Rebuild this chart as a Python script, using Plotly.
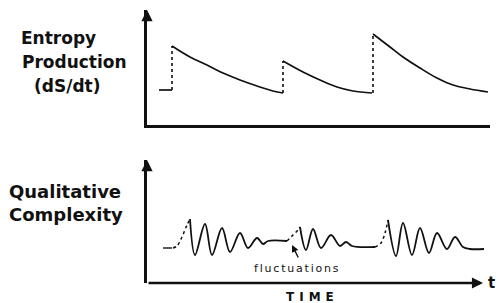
import plotly.graph_objects as go

# ---------------- data (arbitrary units) ----------------
# Entropy production (top panel)
ep_base_t = [12, 25]
ep_base_v = [35, 35]
ep_jump_t = [[25, 25], [136, 136], [226, 226]]
ep_jump_v = [[35, 79], [32, 64], [32, 91]]
ep_decay_t = [
    [25, 43, 60, 76, 93, 110, 126, 136],
    [136, 156, 173, 190, 206, 225],
    [226, 243, 256, 273, 290, 306, 323, 341],
]
ep_decay_v = [
    [79, 68, 60, 52, 45, 39, 34, 32],
    [64, 53, 45, 38, 34, 32],
    [91, 78, 68, 57, 47, 40, 36, 33],
]

# Qualitative complexity (bottom panel)
qc_lead_t = [16, 26]
qc_lead_v = [35, 35]
qc_rise_t = [[26, 30, 35, 40, 43], [140, 146, 151, 153], [228, 234, 238, 241]]
qc_rise_v = [[35, 37, 46, 58, 64], [42, 48, 53, 56], [36, 40, 50, 63]]
qc_osc_t = [
    [43, 48, 58, 65, 75, 83, 93, 101, 110, 116, 121, 140],
    [153, 159, 166, 174, 184, 193, 199, 205, 228],
    [241, 249, 256, 265, 273, 282, 290, 300, 308, 316, 323, 337],
]
qc_osc_v = [
    [64, 28, 59, 28, 55, 31, 50, 35, 45, 39, 42, 42],
    [56, 33, 54, 35, 48, 37, 41, 37, 36],
    [63, 27, 60, 28, 55, 30, 50, 34, 46, 36, 34, 34],
]

x_range = [0, 343]
top_range = [0, 115]
bot_range = [0, 123]

W, H = 498, 303
FONT = "DejaVu Sans"
INK = "#111111"

fig = go.Figure()

def line(t, v, xa, ya, dash="solid", shape="spline", width=1.7):
    fig.add_trace(go.Scatter(
        x=t, y=v, xaxis=xa, yaxis=ya, mode="lines",
        line=dict(color=INK, width=width, dash=dash, shape=shape, smoothing=1.0),
        hoverinfo="skip", showlegend=False))

# top panel
line(ep_base_t, ep_base_v, "x", "y", shape="linear")
for t, v in zip(ep_jump_t, ep_jump_v):
    line(t, v, "x", "y", dash="dot", shape="linear", width=1.6)
for t, v in zip(ep_decay_t, ep_decay_v):
    line(t, v, "x", "y", shape="spline")

# bottom panel
line(qc_lead_t, qc_lead_v, "x2", "y2", dash="dash", shape="linear", width=1.4)
for t, v in zip(qc_rise_t, qc_rise_v):
    line(t, v, "x2", "y2", dash="dot", shape="spline", width=1.5)
for t, v in zip(qc_osc_t, qc_osc_v):
    line(t, v, "x2", "y2", shape="spline", width=1.8)

xdom = [147 / W, 490 / W]
fig.update_layout(
    width=W, height=H,
    margin=dict(l=0, r=0, t=0, b=0),
    paper_bgcolor="white", plot_bgcolor="white",
    showlegend=False,
    xaxis=dict(domain=xdom, range=x_range, anchor="y", showline=True, linecolor=INK,
               linewidth=2.6, showgrid=False, zeroline=False, showticklabels=False, ticks=""),
    yaxis=dict(domain=[1 - 125 / H, 1 - 10 / H], range=top_range, anchor="x", showline=True,
               linecolor=INK, linewidth=2.8, showgrid=False, zeroline=False,
               showticklabels=False, ticks=""),
    xaxis2=dict(domain=xdom, range=x_range, anchor="y2", showline=False, showgrid=False,
                zeroline=False, showticklabels=False, ticks=""),
    yaxis2=dict(domain=[1 - 283 / H, 1 - 160 / H], range=bot_range, anchor="x2", showline=True,
                linecolor=INK, linewidth=2.8, showgrid=False, zeroline=False,
                showticklabels=False, ticks=""),
)

ann = []
# axis arrowheads
ann.append(dict(x=0, y=top_range[1], xref="x", yref="y", ax=0, ay=12, text="",
                showarrow=True, arrowhead=2, arrowsize=0.8, arrowwidth=2.8, arrowcolor=INK))
ann.append(dict(x=0, y=bot_range[1], xref="x2", yref="y2", ax=0, ay=12, text="",
                showarrow=True, arrowhead=2, arrowsize=0.8, arrowwidth=2.8, arrowcolor=INK))
ann.append(dict(x=336, y=0, xref="x2", yref="y2", ax=0, ay=0, axref="x2", ayref="y2",
                text="", showarrow=True, arrowhead=2, arrowsize=0.85, arrowwidth=2.6,
                arrowcolor=INK))
# fluctuations pointer
ann.append(dict(x=145, y=38, xref="x2", yref="y2", ax=7, ay=14, text="", showarrow=True,
                arrowhead=2, arrowsize=1, arrowwidth=1.4, arrowcolor=INK))

def label(txt, px, py, size, bold=True, xanchor="left", spacing=None):
    t = txt
    if spacing:
        t = '<span style="letter-spacing:%spx">%s</span>' % (spacing, txt)
    ann.append(dict(text=t, x=px / W, y=1 - py / H, xref="paper", yref="paper",
                    xanchor=xanchor, yanchor="middle", showarrow=False,
                    font=dict(family=FONT, size=size, color=INK,
                              weight="bold" if bold else "normal")))

label("Entropy", 19, 38, 17)
label("Production", 20, 62, 17)
label("(dS/dt)", 32, 86, 17)
label("Qualitative", 7, 191, 18)
label("Complexity", 7, 214, 18)
label("fluctuations", 297, 268, 11, bold=False, xanchor="center", spacing=1.8)
label("TIME", 312, 297, 12, xanchor="center", spacing=5)
label("t", 486, 283, 15)

fig.update_layout(annotations=ann)
fig.write_html("out.html", config={"displayModeBar": False},
               post_script="document.body.style.margin='0px';")
